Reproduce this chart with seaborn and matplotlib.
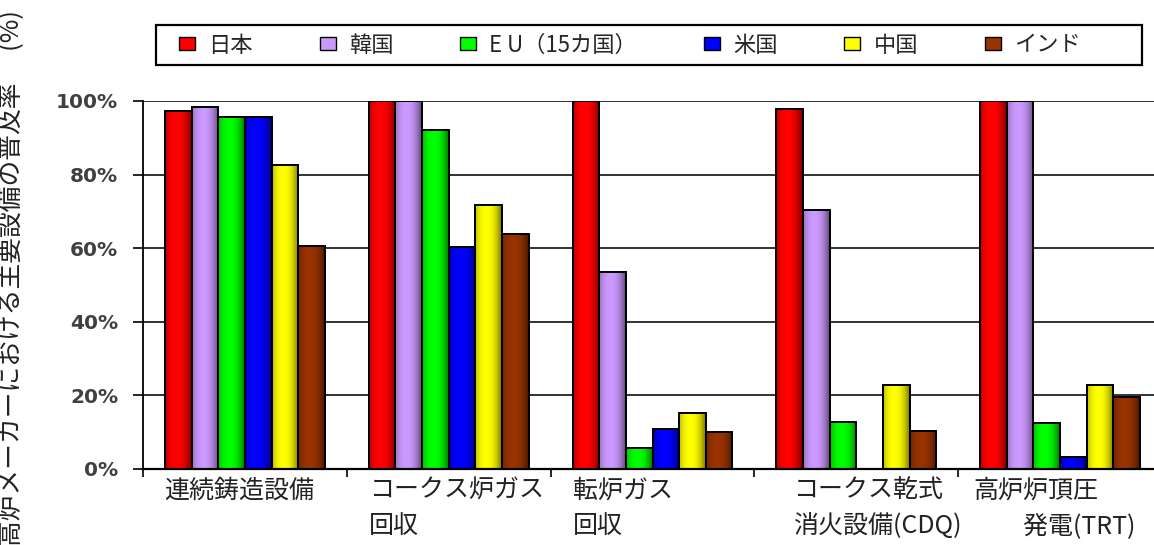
import numpy as np
import pandas as pd
import matplotlib
matplotlib.use("Agg")
import matplotlib.pyplot as plt
import matplotlib.transforms as mtransforms
from matplotlib.patches import Patch, Rectangle
from matplotlib.ticker import FixedLocator, PercentFormatter
import seaborn as sns

# Facility categories (x axis) and countries (hue)
facilities = ["連続鋳造設備", "コークス炉ガス\n回収", "転炉ガス\n回収",
              "コークス乾式\n消火設備(CDQ)", "高炉炉頂圧\n　　発電(TRT)"]
countries = ["日本", "韓国", "E U（15カ国）", "米国", "中国", "インド"]

# Diffusion rate of major facilities (%) per country
japan = [97.2, 100.0, 100.0, 97.9, 100.0]
korea = [98.3, 100.0, 53.4, 70.3, 100.0]
eu15 = [95.6, 92.2, 5.8, 12.8, 12.6]
usa = [95.6, 60.2, 10.9, 0.0, 3.3]
china = [82.6, 71.8, 15.1, 22.8, 22.8]
india = [60.5, 63.8, 10.0, 10.4, 19.5]

y_ticks = [0, 20, 40, 60, 80, 100]
colors = ["#FF0000", "#CC99FF", "#00FF00", "#0000FF", "#FFFF00", "#993300"]

df = pd.DataFrame({
    "facility": np.tile(facilities, len(countries)),
    "country": np.repeat(countries, len(facilities)),
    "rate": np.concatenate([japan, korea, eu15, usa, china, india]),
})

sns.set_theme(style="white")
plt.rcParams["font.family"] = ["Noto Sans CJK JP", "DejaVu Sans"]

W, H = 1154, 545
fig = plt.figure(figsize=(W / 100, H / 100), dpi=100)
ax = fig.add_axes([143 / W, 76 / H, 1019 / W, 368 / H])

sns.barplot(data=df, x="facility", y="rate", hue="country",
            order=facilities, hue_order=countries, palette=colors,
            width=0.785, gap=0, saturation=1, errorbar=None,
            edgecolor="black", linewidth=1.3, legend=False, ax=ax)

# cylinder-like shading across each bar: darker near both sides
t = np.linspace(0, 1, 64)
shade_alpha = 0.55 * np.clip(np.abs(t - 0.42) / 0.58, 0, 1) ** 2.2
shade = np.zeros((1, t.size, 4))
shade[0, :, 3] = shade_alpha
for bar in list(ax.patches):
    h = bar.get_height()
    if h <= 0:
        continue
    x0 = bar.get_x()
    im = ax.imshow(shade, extent=(x0, x0 + bar.get_width(), 0, h),
                   aspect="auto", interpolation="bilinear", zorder=bar.get_zorder() + 0.1)
    im.set_clip_path(bar)
    edge = Rectangle((x0, 0), bar.get_width(), h, fill=False,
                     edgecolor="black", linewidth=1.3, zorder=bar.get_zorder() + 0.2)
    ax.add_patch(edge)

ax.set_xlim(-0.5, len(facilities) - 0.5)
ax.set_ylim(0, 100)
ax.set_aspect("auto")
ax.set_xlabel("")
ax.set_ylabel("")

# y axis: percent ticks with horizontal grid
ax.yaxis.set_major_locator(FixedLocator(y_ticks))
ax.yaxis.set_major_formatter(PercentFormatter(decimals=0))
ax.grid(axis="y", color="#222222", linewidth=1.3)
ax.grid(axis="x", visible=False)
ax.set_axisbelow(True)
ax.tick_params(axis="y", left=True, length=7, width=1.2, color="black",
               pad=11, labelsize=14.5, labelcolor="#404040")
for tl in ax.get_yticklabels():
    tl.set_fontfamily("DejaVu Sans")
    tl.set_fontweight("bold")

# x axis: separators between categories, labels left aligned under groups
ax.xaxis.set_minor_locator(FixedLocator(np.arange(-0.5, len(facilities), 1.0)))
ax.tick_params(axis="x", which="minor", bottom=True, length=6, width=1.2,
               color="black", direction="out")
ax.tick_params(axis="x", which="major", bottom=False, length=0, pad=6,
               labelsize=18, labelcolor="#222222")
label_shift = [-81, -80, -80, -63, -87]
for tl, dx in zip(ax.get_xticklabels(), label_shift):
    tl.set_horizontalalignment("left")
    tl.set_multialignment("left")
    tl.set_linespacing(1.5)
    tl.set_transform(tl.get_transform() +
                     mtransforms.ScaledTranslation(dx / 100, 0, fig.dpi_scale_trans))

for side in ["top", "right"]:
    ax.spines[side].set_visible(False)
ax.spines["left"].set_color("black")
ax.spines["left"].set_linewidth(1.3)
ax.spines["bottom"].set_color("black")
ax.spines["bottom"].set_linewidth(1.6)
ax.spines["bottom"].set_zorder(5)

# Legend in a boxed strip above the plot
handles = [Patch(facecolor=c, edgecolor="black", linewidth=1.0) for c in colors]
fig.legend(handles, countries, loc="center left",
           bbox_to_anchor=(179 / W, 1 - 45 / H), ncol=len(countries),
           frameon=False, handlelength=0.72, handleheight=0.55,
           handletextpad=0.6, columnspacing=3.0, borderpad=0,
           borderaxespad=0, prop={"size": 16})
fig.patches.append(Rectangle((156 / W, 1 - 65 / H), 986 / W, 40 / H,
                             transform=fig.transFigure, fill=False,
                             edgecolor="black", linewidth=1.6))

fig.text(12 / W, 1 - 10 / H, "高炉メーカーにおける主要設備の普及率　 (%)",
         rotation=90, va="top", ha="center", fontsize=18.5, color="#222222")

fig.savefig("out.png", dpi=100)
